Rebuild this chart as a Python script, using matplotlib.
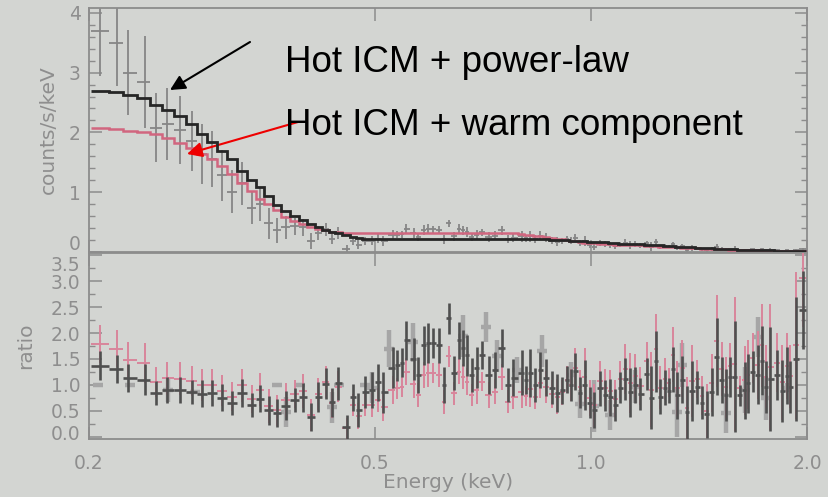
import numpy as np
import matplotlib
matplotlib.use("Agg")
import matplotlib.pyplot as plt
import matplotlib.transforms as mtransforms
from matplotlib.ticker import MultipleLocator, NullLocator

# spectrum bins (keV), counts/s/keV with 1-sigma errors
energy = [0.207, 0.219, 0.227, 0.239, 0.248, 0.257, 0.268, 0.278, 0.287, 0.297,
          0.306, 0.316, 0.327, 0.337, 0.346, 0.356, 0.365, 0.376, 0.387, 0.397,
          0.408, 0.417, 0.428, 0.436, 0.444, 0.457, 0.467, 0.474, 0.485, 0.496,
          0.505, 0.514, 0.530, 0.537, 0.546, 0.553, 0.567, 0.574, 0.586, 0.593,
          0.603, 0.615, 0.624, 0.634, 0.645, 0.655, 0.664, 0.672, 0.683, 0.694,
          0.705, 0.721, 0.735, 0.752, 0.767, 0.779, 0.802, 0.812, 0.823, 0.836,
          0.850, 0.866, 0.883, 0.897, 0.912, 0.926, 0.938, 0.951, 0.966, 0.981,
          0.997, 1.010, 1.030, 1.047, 1.063, 1.081, 1.098, 1.116, 1.134, 1.152,
          1.171, 1.197, 1.213, 1.233, 1.248, 1.269, 1.285, 1.302, 1.318, 1.340,
          1.361, 1.383, 1.406, 1.428, 1.451, 1.475, 1.498, 1.522, 1.542, 1.562,
          1.587, 1.613, 1.639, 1.655, 1.682, 1.709, 1.731, 1.753, 1.776, 1.817,
          1.846, 1.876, 1.894, 1.931, 1.974]

counts = [3.70, 3.50, 3.00, 2.84, 2.08, 2.14, 2.04, 1.86, 1.64, 1.56,
          1.28, 1.01, 1.15, 0.74, 0.80, 0.48, 0.36, 0.41, 0.43, 0.41,
          0.18, 0.32, 0.38, 0.22, 0.32, 0.053, 0.19, 0.125, 0.19, 0.19,
          0.22, 0.18, 0.28, 0.29, 0.30, 0.39, 0.315, 0.25, 0.37, 0.38,
          0.38, 0.37, 0.21, 0.48, 0.26, 0.39, 0.36, 0.33, 0.25, 0.28,
          0.33, 0.25, 0.27, 0.36, 0.21, 0.24, 0.26, 0.23, 0.26, 0.21,
          0.27, 0.24, 0.19, 0.17, 0.18, 0.22, 0.19, 0.24, 0.153, 0.18,
          0.112, 0.088, 0.15, 0.128, 0.114, 0.092, 0.133, 0.157, 0.12, 0.13,
          0.107, 0.146, 0.091, 0.16, 0.085, 0.095, 0.089, 0.13, 0.072, 0.099,
          0.038, 0.071, 0.067, 0.046, 0.026, 0.052, 0.085, 0.055, 0.04, 0.052,
          0.052, 0.032, 0.036, 0.036, 0.044, 0.036, 0.044, 0.029, 0.031, 0.030,
          0.022, 0.026, 0.021, 0.030, 0.049]

counts_err = [0.76, 0.72, 0.71, 0.77, 0.58, 0.60, 0.57, 0.50, 0.50, 0.47,
              0.43, 0.36, 0.36, 0.28, 0.28, 0.26, 0.21, 0.19, 0.14, 0.15,
              0.13, 0.12, 0.11, 0.093, 0.10, 0.066, 0.066, 0.079, 0.066, 0.074,
              0.074, 0.084, 0.084, 0.063, 0.059, 0.08, 0.084, 0.074, 0.08, 0.08,
              0.059, 0.07, 0.071, 0.063, 0.069, 0.076, 0.074, 0.082, 0.067, 0.084,
              0.057, 0.078, 0.074, 0.078, 0.067, 0.076, 0.092, 0.055, 0.097, 0.067,
              0.074, 0.076, 0.062, 0.074, 0.052, 0.052, 0.057, 0.068, 0.054, 0.086,
              0.051, 0.06, 0.054, 0.048, 0.053, 0.045, 0.042, 0.057, 0.066, 0.046,
              0.04, 0.037, 0.072, 0.065, 0.037, 0.034, 0.024, 0.044, 0.041, 0.041,
              0.041, 0.046, 0.022, 0.022, 0.027, 0.028, 0.041, 0.022, 0.025, 0.017,
              0.048, 0.008, 0.022, 0.020, 0.014, 0.017, 0.020, 0.015, 0.028, 0.012,
              0.015, 0.012, 0.011, 0.024, 0.015]

# folded models: hot ICM + power-law, hot ICM + warm component
model_pl = [2.70, 2.67, 2.63, 2.58, 2.45, 2.38, 2.27, 2.14, 1.97, 1.84,
            1.69, 1.55, 1.35, 1.21, 1.09, 0.93, 0.79, 0.68, 0.60, 0.54,
            0.47, 0.42, 0.37, 0.33, 0.31, 0.28, 0.25, 0.24, 0.22, 0.21,
            0.21, 0.21, 0.21, 0.21, 0.21, 0.21, 0.21, 0.21, 0.21, 0.21,
            0.21, 0.21, 0.21, 0.21, 0.21, 0.21, 0.21, 0.21, 0.21, 0.21,
            0.21, 0.21, 0.21, 0.21, 0.21, 0.21, 0.21, 0.21, 0.21, 0.21,
            0.21, 0.21, 0.20, 0.20, 0.20, 0.20, 0.19, 0.19, 0.18, 0.18,
            0.17, 0.17, 0.16, 0.16, 0.15, 0.15, 0.14, 0.14, 0.14, 0.13,
            0.13, 0.12, 0.12, 0.11, 0.11, 0.10, 0.10, 0.10, 0.09, 0.09,
            0.08, 0.08, 0.07, 0.07, 0.06, 0.06, 0.055, 0.05, 0.05, 0.045,
            0.045, 0.04, 0.04, 0.035, 0.035, 0.03, 0.03, 0.03, 0.028, 0.025,
            0.025, 0.022, 0.022, 0.02, 0.02]

model_warm = [2.07, 2.06, 2.03, 2.00, 1.97, 1.90, 1.82, 1.74, 1.64, 1.55,
              1.44, 1.30, 1.16, 1.02, 0.88, 0.80, 0.70, 0.58, 0.52, 0.46,
              0.42, 0.39, 0.36, 0.34, 0.33, 0.32, 0.31, 0.31, 0.31, 0.31,
              0.31, 0.31, 0.31, 0.31, 0.31, 0.31, 0.31, 0.31, 0.31, 0.31,
              0.31, 0.31, 0.31, 0.31, 0.31, 0.31, 0.31, 0.31, 0.31, 0.31,
              0.31, 0.31, 0.31, 0.31, 0.31, 0.31, 0.30, 0.29, 0.28, 0.27,
              0.26, 0.25, 0.23, 0.22, 0.21, 0.20, 0.19, 0.18, 0.16, 0.155,
              0.15, 0.145, 0.14, 0.135, 0.13, 0.125, 0.12, 0.12, 0.115, 0.11,
              0.11, 0.10, 0.10, 0.095, 0.09, 0.085, 0.085, 0.082, 0.077, 0.075,
              0.068, 0.066, 0.06, 0.058, 0.052, 0.05, 0.046, 0.042, 0.042, 0.038,
              0.037, 0.034, 0.033, 0.03, 0.029, 0.026, 0.025, 0.025, 0.023, 0.021,
              0.021, 0.019, 0.018, 0.017, 0.016]

# second data group, ratio only (light grey)
alt_energy = [0.206, 0.228, 0.258, 0.281, 0.365, 0.376, 0.394, 0.436, 0.446, 0.485,
              0.496, 0.523, 0.565, 0.664, 0.714, 0.740, 0.789, 0.855, 0.938, 0.966,
              1.010, 1.063, 1.152, 1.318, 1.340, 1.542, 1.639, 1.709, 1.753, 1.876]
alt_ratio = [1.0, 1.0, 0.9, 0.87, 1.0, 0.48, 1.0, 0.57, 1.0, 1.0,
             0.95, 1.7, 1.82, 1.94, 2.12, 1.56, 1.29, 1.65, 1.2, 0.64,
             0.6, 0.42, 0.97, 0.48, 1.38, 0.46, 0.9, 1.92, 0.74, 0.95]
alt_err = [0.02, 0.02, 0.23, 0.02, 0.02, 0.29, 0.02, 0.3, 0.02, 0.02,
           0.3, 0.36, 0.38, 0.4, 0.29, 0.31, 0.25, 0.31, 0.24, 0.27,
           0.5, 0.29, 0.32, 0.48, 0.42, 0.38, 0.44, 0.38, 0.41, 0.09]

BG = "#d3d5d2"
FRAME = "#8c8c8c"
LABEL = "#8e8e8e"
DATA_GREY = "#868686"
DARK = "#4f4f4f"
PINK = "#d9859b"
LIGHT = "#a6a6a6"

e = np.array(energy)
c = np.array(counts)
ce = np.array(counts_err)
m_pl = np.array(model_pl)
m_warm = np.array(model_warm)

# bin edges from geometric midpoints
mids = np.sqrt(e[:-1] * e[1:])
edges = np.concatenate([[e[0] ** 2 / mids[0]], mids, [e[-1] ** 2 / mids[-1]]])
xlo = e - edges[:-1]
xhi = edges[1:] - e

ratio_pl = c / m_pl
ratio_pl_err = ce / m_pl
ratio_warm = c / m_warm
ratio_warm_err = ce / m_warm

fig = plt.figure(figsize=(8.29, 4.97), dpi=100, facecolor=BG)
W, H = 829.0, 497.0
ax1 = fig.add_axes([89 / W, 1 - 252 / H, 718 / W, 244 / H], facecolor=BG)
ax2 = fig.add_axes([89 / W, 1 - 439 / H, 718 / W, 186 / H], facecolor=BG)

for ax in (ax1, ax2):
    ax.set_xscale("log")
    ax.set_xlim(0.2, 2.0)
    for s in ax.spines.values():
        s.set_color(FRAME)
        s.set_linewidth(1.3)
    ax.set_xticks([0.2, 0.5, 1.0, 2.0])
    ax.xaxis.set_minor_locator(NullLocator())
    ax.tick_params(which="both", direction="in", top=True, right=True,
                   color=FRAME, labelcolor=LABEL, labelsize=13.5)
    ax.tick_params(which="major", length=9, width=1.1)
    ax.tick_params(which="minor", length=4.5, width=1.0)

# upper panel: data and both models
ax1.set_ylim(0, 4.08)
ax1.set_yticks([0, 1, 2, 3, 4])
ax1.yaxis.set_minor_locator(MultipleLocator(0.2))
ax1.tick_params(axis="x", labelbottom=False)
ax1.tick_params(axis="y", pad=6)
ax1.errorbar(e, c, yerr=ce, xerr=[xlo, xhi], fmt="none", ecolor=DATA_GREY,
             elinewidth=1.3, capsize=0, zorder=2)
ax1.stairs(m_warm, edges, baseline=None, color="#d1667f", linewidth=1.8, zorder=3)
ax1.stairs(m_pl, edges, baseline=None, color="#262626", linewidth=2.0, zorder=4)

# lower panel: data/model ratios
ax2.set_ylim(-0.04, 3.54)
ax2.set_yticks([0.0, 0.5, 1.0, 1.5, 2.0, 2.5, 3.0, 3.5])
ax2.set_yticklabels(["0.0", "0.5", "1.0", "1.5", "2.0", "2.5", "3.0", "3.5"])
ax2.yaxis.set_minor_locator(MultipleLocator(0.25))
ax2.set_xticklabels(["0.2", "0.5", "1.0", "2.0"])
ax2.tick_params(axis="x", pad=11)
ax2.tick_params(axis="y", pad=6)

ae = np.array(alt_energy)
ax2.errorbar(ae, alt_ratio, yerr=alt_err, xerr=[ae * 0.016, ae * 0.016], fmt="none",
             ecolor=LIGHT, elinewidth=3.2, capsize=0, zorder=2)
ax2.errorbar(e, ratio_warm, yerr=ratio_warm_err, xerr=[xlo, xhi], fmt="none",
             ecolor=PINK, elinewidth=1.4, capsize=0, zorder=3)
ax2.errorbar(e, ratio_pl, yerr=ratio_pl_err, xerr=[xlo, xhi], fmt="none",
             ecolor=DARK, elinewidth=1.9, capsize=0, zorder=4)

# nudge the end labels where the two panels meet
def shift_label(lbl, dy_px):
    lbl.set_transform(lbl.get_transform() +
                      mtransforms.ScaledTranslation(0, dy_px / 100.0, fig.dpi_scale_trans))

fig.canvas.draw()
shift_label(ax1.get_yticklabels()[0], 9)
shift_label(ax2.get_yticklabels()[-1], -8)
shift_label(ax2.get_yticklabels()[0], 4)

# axis titles
fig.text(48 / W, 1 - 130 / H, "counts/s/keV", rotation=90, ha="center", va="center",
         color=LABEL, fontsize=14.5)
fig.text(26 / W, 1 - 346 / H, "ratio", rotation=90, ha="center", va="center",
         color=LABEL, fontsize=14.5)
fig.text(448 / W, 1 - 483 / H, "Energy (keV)", ha="center", va="center",
         color=LABEL, fontsize=14.5)

# model annotations
fig.text(285 / W, 1 - 72 / H, "Hot ICM + power-law", ha="left", va="baseline",
         fontsize=26.5, family="Liberation Sans", color="black")
fig.text(285 / W, 1 - 135 / H, "Hot ICM + warm component", ha="left", va="baseline",
         fontsize=26.5, family="Liberation Sans", color="black")
ax1.annotate("", xy=(170, H - 90), xytext=(250, H - 42),
             xycoords="figure pixels", textcoords="figure pixels",
             arrowprops=dict(arrowstyle="-|>,head_length=0.9,head_width=0.45",
                             color="black", lw=1.5, shrinkA=0, shrinkB=0),
             annotation_clip=False)
ax1.annotate("", xy=(187, H - 154), xytext=(298, H - 122),
             xycoords="figure pixels", textcoords="figure pixels",
             arrowprops=dict(arrowstyle="-|>,head_length=0.9,head_width=0.45",
                             color="#ee0000", lw=1.5, shrinkA=0, shrinkB=0),
             annotation_clip=False)

fig.savefig("out.png", dpi=100, facecolor=BG)
